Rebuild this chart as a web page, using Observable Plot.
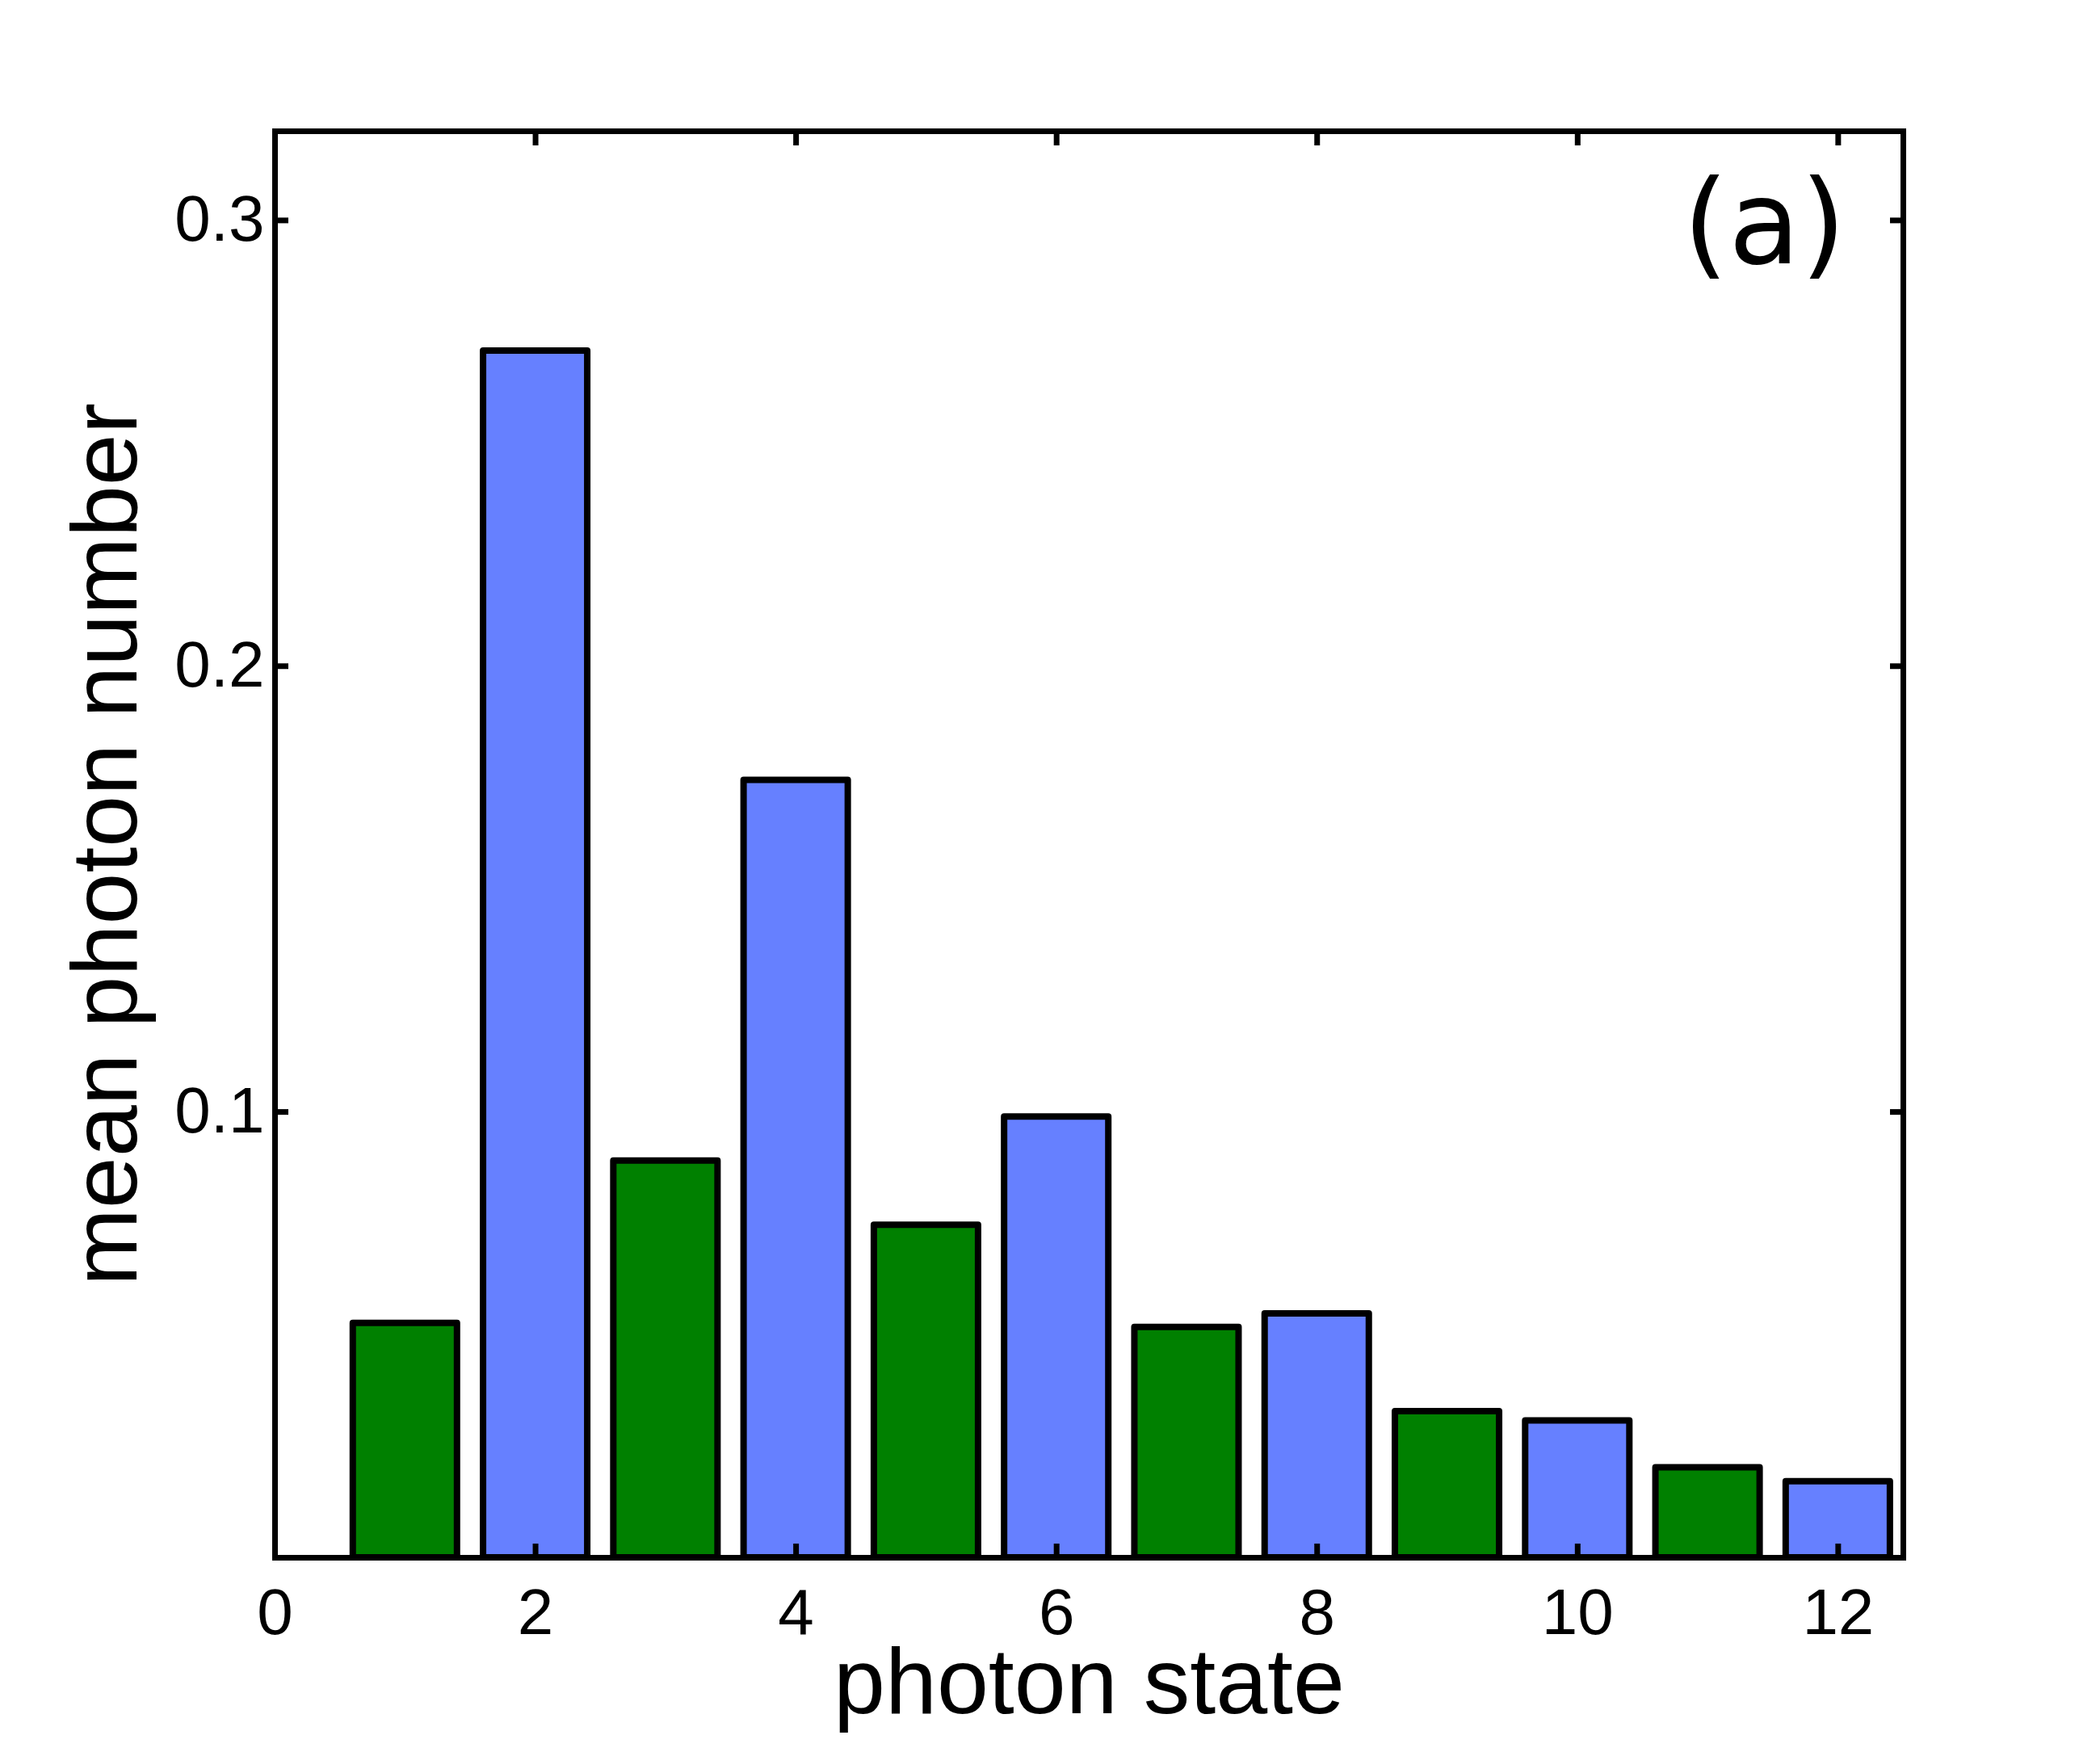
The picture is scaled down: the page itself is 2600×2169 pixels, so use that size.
<!DOCTYPE html>
<html>
<head>
<meta charset="utf-8">
<script src="https://cdn.jsdelivr.net/npm/d3@7"></script>
<script src="https://cdn.jsdelivr.net/npm/@observablehq/plot@0.6"></script>
<style>
  html, body { margin: 0; padding: 0; background: #fff; }
  #chart svg { display: block; }
</style>
</head>
<body>
<div id="chart"></div>
<script>
// ---- data ----
const states = [0, 1, 2, 3, 4, 5, 6, 7, 8, 9, 10, 11, 12];
const meanPhotons = [0, 0.0526, 0.2707, 0.0890, 0.1744, 0.0746, 0.0989, 0.0517, 0.0547, 0.0328, 0.0307, 0.0202, 0.0171];
const oddColor = "#008000";
const evenColor = "#6680ff";
const xTicks = [0, 2, 4, 6, 8, 10, 12];
const yTicks = [0.1, 0.2, 0.3];
const xTitle = "photon state";
const yTitle = "mean photon number";
const panelLabel = "(a)";

const bars = states.map((s, i) => ({
  state: s,
  value: meanPhotons[i],
  color: s % 2 === 1 ? oddColor : evenColor
}));

const halfWidth = 0.4;

const chart = Plot.plot({
  width: 2600,
  height: 2169,
  marginLeft: 340,
  marginRight: 244,
  marginTop: 162,
  marginBottom: 241,
  style: {
    fontFamily: "'Liberation Sans', Arial, sans-serif",
    fontSize: "80px",
    color: "#000",
    background: "#fff"
  },
  x: { domain: [0, 12.5] },
  y: { domain: [0, 0.32] },
  marks: [
    Plot.rect(bars, {
      x1: d => d.state - halfWidth,
      x2: d => d.state + halfWidth,
      y1: 0,
      y2: "value",
      fill: "color",
      stroke: "#000",
      strokeWidth: 8,
      strokeLinejoin: "round",
      clip: true
    }),
    Plot.frame({ stroke: "#000", strokeWidth: 7 }),
    Plot.axisX(xTicks, { anchor: "bottom", tickSize: -17, tickPadding: 55, strokeWidth: 7, label: null, tickFormat: d => String(d) }),
    Plot.axisX(xTicks, { anchor: "top", tickSize: -17, strokeWidth: 7, fill: "none", label: null }),
    Plot.axisY(yTicks, { anchor: "left", tickSize: -17, tickPadding: 30, strokeWidth: 7, label: null, tickFormat: d => d.toFixed(1) }),
    Plot.axisY(yTicks, { anchor: "right", tickSize: -17, strokeWidth: 7, fill: "none", label: null }),
    Plot.text([xTitle], { frameAnchor: "bottom", textAnchor: "middle", lineAnchor: "bottom", dy: 192, fontSize: 115 }),
    Plot.text([yTitle], { frameAnchor: "left", textAnchor: "middle", rotate: -90, lineAnchor: "bottom", dx: -172, fontSize: 115 }),
    Plot.text([panelLabel], { frameAnchor: "top-right", textAnchor: "end", lineAnchor: "bottom", dx: -71, dy: 163, fontSize: 145, fontFamily: "'DejaVu Sans', sans-serif" })
  ]
});

document.getElementById("chart").appendChild(chart);
</script>
</body>
</html>
